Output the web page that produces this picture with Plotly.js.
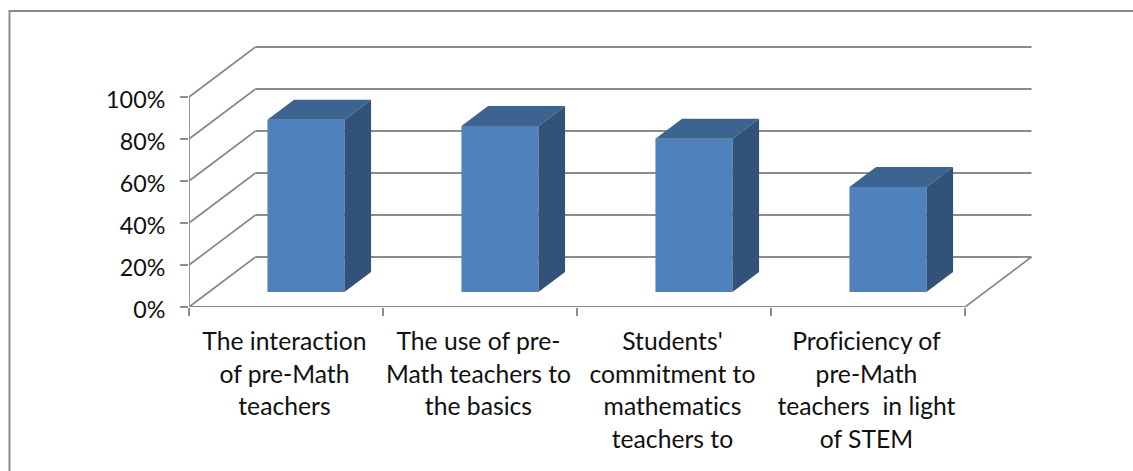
<!DOCTYPE html>
<html><head><meta charset="utf-8">
<script src="https://cdn.plot.ly/plotly-3.0.1.min.js"></script>
<style>html,body{margin:0;padding:0;background:#fff;overflow:hidden}
text,tspan{font-variant-ligatures:none !important;font-feature-settings:"liga" 0,"clig" 0,"dlig" 0 !important}</style>
</head><body><div id="chart" style="width:1133px;height:471px"></div>
<script>
const categories = [
  "The interaction<br>of pre-Math<br>teachers",
  "The use of pre-<br>Math teachers to<br>the basics",
  "Students'<br>commitment to<br>mathematics<br>teachers to",
  "Proficiency of<br>pre-Math<br>teachers\u00a0 in light<br>of STEM"
];
const values = [82, 79, 73, 50];
const yTicks = [0, 20, 40, 60, 80, 100];
const yLabels = ["0%", "20%", "40%", "60%", "80%", "100%"];

// Oblique 3D look: depth expressed in axis units
const depthX = 66.5 / 194, depthY = 50 / 2.1;
const nearD = 0.3, farD = 0.7, barW = 0.397;
const GRID = "#8c8c8c", TXT = "#111111", FONT = "Lato, sans-serif";
const cx = i => i + 0.5 + nearD * depthX;

const faces = [];
values.forEach((v, i) => {
  const l = cx(i) - barW / 2, r = cx(i) + barW / 2;
  const y0 = nearD * depthY, y1 = y0 + v;
  const ox = (farD - nearD) * depthX, oy = (farD - nearD) * depthY;
  faces.push({type:"scatter", mode:"lines", fill:"toself", fillcolor:"#3d6491", line:{width:0},
    hoverinfo:"skip", showlegend:false,
    x:[l, r, r + ox, l + ox, l], y:[y1, y1, y1 + oy, y1 + oy, y1]});
  faces.push({type:"scatter", mode:"lines", fill:"toself", fillcolor:"#325279", line:{width:0},
    hoverinfo:"skip", showlegend:false,
    x:[r, r + ox, r + ox, r, r], y:[y0, y0 + oy, y1 + oy, y1, y0]});
});

const front = {type:"bar", x:values.map((_, i) => cx(i)), y:values,
  base:values.map(() => nearD * depthY), width:barW,
  marker:{color:"#4f81bd", line:{width:0}}, hoverinfo:"skip", showlegend:false};

const frontLines = {type:"scatter", mode:"lines", cliponaxis:false, hoverinfo:"skip", showlegend:false,
  line:{color:GRID, width:1.8},
  x:[0, 0, null, 0, 4], y:[100, 0, null, 0, 0]};

const line = (x0, y0, x1, y1) => ({type:"line", layer:"below", xref:"x", yref:"y", x0, y0, x1, y1,
  line:{color:GRID, width:1.8}});
const shapes = [];
yTicks.forEach(v => {
  shapes.push(line(0, v, depthX, v + depthY));
  shapes.push(line(depthX, v + depthY, 4 + depthX, v + depthY));
});
shapes.push(line(4, 0, 4 + depthX, depthY));
const W = 1133 - 189 - 101;
const H = 471 - 46 - 164;
// outer frame: top and left edges
shapes.push({type:"path", xref:"paper", yref:"paper", layer:"below",
  path:`M ${(9.5-189)/W} ${(307-471)/H} L ${(9.5-189)/W} ${(307-11)/H} L ${(1133-189)/W} ${(307-11)/H}`,
  line:{color:"#8c8c8c", width:2}});

const span = s => s.split("<br>").map(t => `<span style="font-size:24.7px">${t}</span>`).join("<br>");

Plotly.newPlot("chart", [...faces, front, frontLines], {
  width:1133, height:471,
  margin:{l:189, r:101, t:46, b:164, pad:0},
  paper_bgcolor:"#fff", plot_bgcolor:"rgba(0,0,0,0)",
  barmode:"overlay", showlegend:false, shapes,
  xaxis:{type:"linear", range:[0, 843/194], showgrid:false, zeroline:false, showline:false,
    tickmode:"array", tickvals:[0.492,1.492,2.492,3.492], ticktext:categories.map(span),
    ticks:"", ticklen:0, ticklabelstandoff:17,
    tickangle:0, tickfont:{family:FONT, size:25, color:TXT},
    minor:{tickmode:"array", tickvals:[0,1,2,3,4], ticks:"outside", ticklen:8, tickwidth:1.8, tickcolor:GRID, showgrid:false}},
  yaxis:{range:[0, 261/2.1], showgrid:false, zeroline:false, showline:false,
    tickmode:"array", tickvals:yTicks, ticktext:yLabels, ticks:"outside", ticklen:8, tickwidth:1.8, tickcolor:GRID,
    ticklabelstandoff:10, ticklabelshift:3, tickfont:{family:FONT, size:23.3, color:TXT}}
}, {displayModeBar:false, staticPlot:true});
</script></body></html>
